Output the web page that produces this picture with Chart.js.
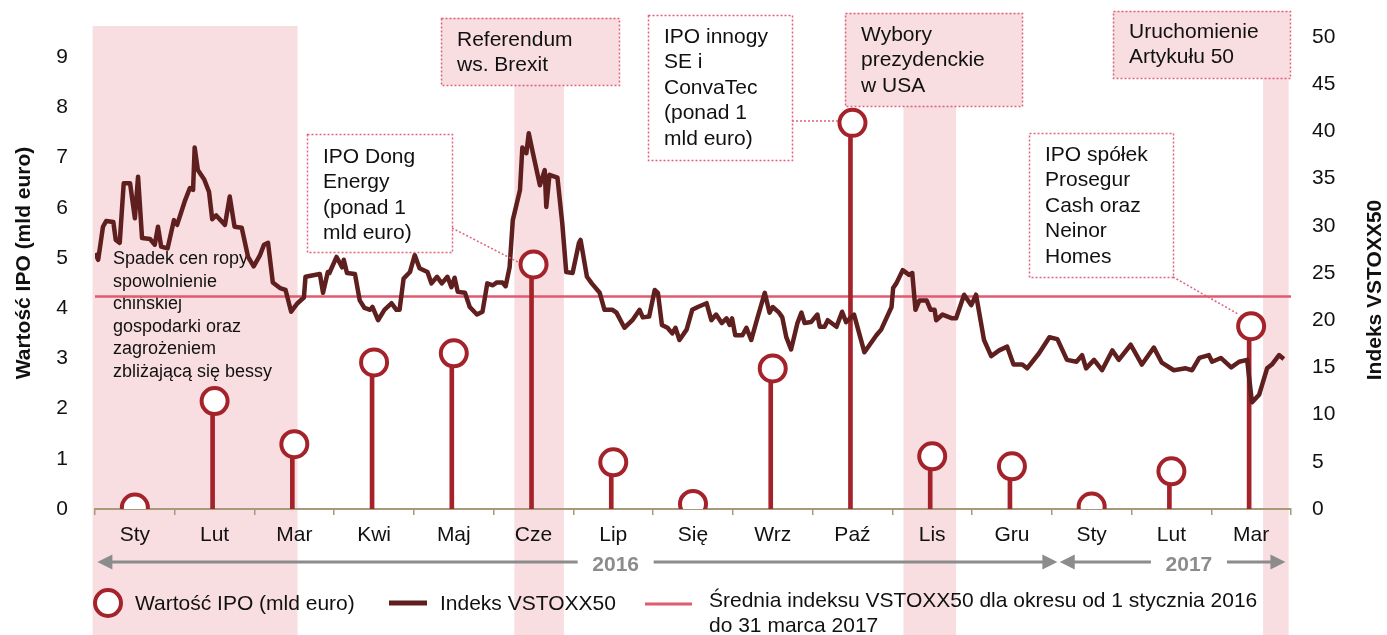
<!DOCTYPE html>
<html>
<head>
<meta charset="utf-8">
<script src="https://cdn.jsdelivr.net/npm/chart.js@4.4.0/dist/chart.umd.min.js"></script>
<style>
  body { margin: 0; background: #fff; }
  #wrap { width: 1387px; height: 635px; }
</style>
</head>
<body>
<div id="wrap"><canvas id="ipoChart" width="1387" height="635"></canvas></div>
<script>
// Months on the x axis (Jan 2016 - Mar 2017)
const months = ['Sty', 'Lut', 'Mar', 'Kwi', 'Maj', 'Cze', 'Lip', 'Się', 'Wrz', 'Paź', 'Lis', 'Gru', 'Sty', 'Lut', 'Mar'];

// IPO value per month (bn euro, left axis)
const ipoValues = [0.03, 2.15, 1.29, 2.92, 3.10, 4.87, 0.93, 0.10, 2.80, 7.69, 1.05, 0.85, 0.05, 0.75, 3.64];

// VSTOXX50 index, position in months from 1 Jan 2016 and value (right axis)
const vstoxxT = [0.00, 0.04, 0.10, 0.14, 0.23, 0.26, 0.31, 0.36, 0.44, 0.50, 0.54, 0.59, 0.69, 0.75, 0.79, 0.83, 0.91, 0.99,
  1.03, 1.13, 1.19, 1.23, 1.25, 1.29, 1.37, 1.43, 1.47, 1.52, 1.63, 1.69, 1.75, 1.84, 1.92, 1.99,
  2.07, 2.12, 2.17, 2.23, 2.32, 2.39, 2.46, 2.54, 2.62, 2.64, 2.82, 2.86, 2.92, 2.94,
  3.03, 3.10, 3.12, 3.16, 3.26, 3.32, 3.38, 3.45, 3.48, 3.55, 3.63, 3.72, 3.78, 3.82, 3.87, 3.95,
  4.01, 4.07, 4.17, 4.22, 4.29, 4.35, 4.42, 4.47, 4.51, 4.55, 4.64, 4.70, 4.79, 4.86, 4.92, 4.99,
  5.04, 5.11, 5.15, 5.20, 5.24, 5.33, 5.36, 5.41, 5.44, 5.49, 5.58, 5.64, 5.66, 5.70, 5.80, 5.86, 5.91, 5.99,
  6.07, 6.09, 6.17, 6.23, 6.33, 6.39, 6.49, 6.54, 6.64, 6.74, 6.83, 6.87, 6.95,
  7.02, 7.06, 7.11, 7.18, 7.24, 7.28, 7.33, 7.42, 7.49, 7.56, 7.67, 7.73, 7.79, 7.86, 7.92, 7.96, 7.99,
  8.03, 8.12, 8.17, 8.23, 8.31, 8.40, 8.46, 8.50, 8.58, 8.62, 8.67, 8.73, 8.81, 8.86, 8.90, 8.98,
  9.06, 9.09, 9.15, 9.19, 9.30, 9.37, 9.42, 9.52, 9.65, 9.80, 9.86, 9.99,
  10.01, 10.05, 10.13, 10.21, 10.25, 10.29, 10.34, 10.43, 10.48, 10.53, 10.55, 10.63, 10.75, 10.80, 10.90, 10.99,
  11.05, 11.15, 11.24, 11.34, 11.44, 11.52, 11.63, 11.69, 11.84, 11.97,
  12.07, 12.19, 12.31, 12.38, 12.43, 12.53, 12.63, 12.76, 12.84, 12.99,
  13.13, 13.28, 13.38, 13.53, 13.68, 13.76, 13.85, 13.97,
  14.01, 14.12, 14.25, 14.35, 14.45, 14.51, 14.60, 14.70, 14.76, 14.85, 14.91];
const vstoxxV = [27.1, 26.4, 29.9, 30.5, 30.4, 28.5, 28.2, 34.5, 34.5, 30.8, 35.2, 28.7, 28.6, 28.0, 29.9, 27.8, 27.6, 30.6,
  30.1, 32.7, 34.0, 33.8, 38.3, 35.9, 34.9, 33.6, 30.7, 31.1, 30.1, 33.1, 29.9, 29.8, 26.7, 25.7,
  26.9, 28.0, 28.2, 24.0, 23.4, 23.2, 20.9, 21.8, 22.4, 24.6, 24.9, 22.9, 25.1, 25.0,
  26.7, 25.6, 26.4, 25.0, 24.9, 22.1, 21.3, 21.1, 21.4, 20.0, 21.1, 21.8, 21.1, 21.1, 24.4, 25.1,
  26.9, 25.5, 25.1, 23.9, 24.6, 23.9, 24.6, 23.5, 24.5, 23.0, 22.9, 21.4, 20.6, 20.9, 23.9, 23.7,
  24.0, 24.0, 23.6, 25.6, 30.6, 33.8, 38.3, 37.7, 39.8, 37.8, 34.3, 35.9, 32.0, 35.4, 35.1, 30.3, 25.1, 25.0,
  28.2, 28.5, 24.6, 23.9, 22.9, 21.1, 21.1, 20.8, 19.2, 20.0, 21.1, 20.3, 20.4,
  23.2, 22.9, 19.5, 19.2, 18.6, 19.2, 17.9, 19.0, 21.1, 21.4, 21.8, 20.0, 20.6, 19.7, 20.2, 19.5, 20.2,
  18.4, 18.4, 19.2, 17.9, 20.3, 22.9, 20.8, 21.4, 20.8, 20.3, 18.2, 16.9, 19.7, 20.8, 19.7, 19.8,
  20.6, 19.3, 19.3, 20.0, 19.3, 20.9, 19.8, 20.6, 16.6, 18.4, 19.0, 21.4,
  23.4, 23.9, 25.3, 24.8, 25.0, 21.1, 22.1, 22.1, 21.1, 21.1, 20.0, 20.6, 20.2, 20.2, 22.7, 21.6,
  22.7, 17.9, 16.2, 16.8, 17.2, 15.3, 15.3, 14.9, 16.5, 18.2,
  18.0, 15.8, 15.6, 16.3, 14.9, 15.8, 14.7, 16.8, 15.8, 17.4,
  15.3, 17.1, 15.5, 14.7, 14.9, 14.7, 16.0, 16.3,
  15.6, 16.0, 15.0, 15.6, 15.8, 11.3, 12.1, 14.9, 15.3, 16.3, 15.9];

// Average of the index over the whole period
const vstoxxMean = 22.5;

// Tick labels
const leftTicks = [0, 1, 2, 3, 4, 5, 6, 7, 8, 9];
const rightTicks = [0, 5, 10, 15, 20, 25, 30, 35, 40, 45, 50];

// Shaded periods (in months from 1 Jan 2016)
const bandStarts = [-0.03, 5.26, 10.14, 14.65];
const bandEnds = [2.54, 5.88, 10.80, 14.97];

const FONT = '"Liberation Sans", Arial, sans-serif';
const RED = '#a4222a';
const DARK = '#5e1f1e';
const PINK = '#e05a70';
const BAND = '#f8dde1';
const DOTS = '#e0627a';
const GREY = '#8c8c8c';

// Annotation boxes
const boxes = [
  { x: 307, y: 134, w: 145, h: 118, fill: '#fff', ty: 157, lines: ['IPO Dong', 'Energy', '(ponad 1', 'mld euro)'] },
  { x: 441, y: 18, w: 178, h: 67, fill: BAND, ty: 40, lines: ['Referendum', 'ws. Brexit'] },
  { x: 648, y: 15, w: 144, h: 145, fill: '#fff', ty: 37, lines: ['IPO innogy', 'SE i', 'ConvaTec', '(ponad 1', 'mld euro)'] },
  { x: 845, y: 13, w: 177, h: 93, fill: BAND, ty: 35, lines: ['Wybory', 'prezydenckie', 'w USA'] },
  { x: 1029, y: 133, w: 144, h: 144, fill: '#fff', ty: 155, lines: ['IPO spółek', 'Prosegur', 'Cash oraz', 'Neinor', 'Homes'] },
  { x: 1113, y: 11, w: 177, h: 67, fill: BAND, ty: 32, lines: ['Uruchomienie', 'Artykułu 50'] }
];

// Function to draw a filled arrow head, dir = 1 points right
function arrowHead(ctx, x, y, dir) {
  ctx.beginPath();
  ctx.moveTo(x, y);
  ctx.lineTo(x - dir * 15, y - 7.5);
  ctx.lineTo(x - dir * 15, y + 7.5);
  ctx.closePath();
  ctx.fill();
}

// Plugin for bands, boxes, year arrows, legend and axis titles
const overlay = {
  id: 'overlay',
  beforeDraw(chart) {
    const ctx = chart.ctx;
    const x2 = chart.scales.x2;
    ctx.save();
    ctx.fillStyle = BAND;
    bandStarts.forEach((s, i) => {
      const a = x2.getPixelForValue(s);
      const b = x2.getPixelForValue(bandEnds[i]);
      ctx.fillRect(a, 26, b - a, chart.height - 26);
    });
    ctx.restore();
  },
  beforeDatasetsDraw(chart) {
    const ctx = chart.ctx;
    ctx.save();
    ctx.fillStyle = '#111';
    ctx.font = '18px ' + FONT;
    ctx.textBaseline = 'middle';
    ['Spadek cen ropy', 'spowolnienie', 'chińskiej', 'gospodarki oraz', 'zagrożeniem', 'zbliżającą się bessy']
      .forEach((t, i) => ctx.fillText(t, 113, 259 + i * 22.6));
    ctx.restore();
  },
  afterDatasetsDraw(chart) {
    const ctx = chart.ctx;
    const x2 = chart.scales.x2;
    ctx.save();

    // connectors
    ctx.strokeStyle = DOTS;
    ctx.lineWidth = 1.5;
    ctx.setLineDash([2, 2]);
    [[452, 228, 518, 262], [792, 121, 838, 121], [1173, 277, 1238, 314]].forEach(c => {
      ctx.beginPath();
      ctx.moveTo(c[0], c[1]);
      ctx.lineTo(c[2], c[3]);
      ctx.stroke();
    });

    // boxes
    boxes.forEach(b => {
      ctx.fillStyle = b.fill;
      ctx.fillRect(b.x, b.y, b.w, b.h);
      ctx.setLineDash([2, 2]);
      ctx.strokeStyle = DOTS;
      ctx.strokeRect(b.x + 0.5, b.y + 0.5, b.w, b.h);
      ctx.setLineDash([]);
      ctx.fillStyle = '#111';
      ctx.font = '21px ' + FONT;
      ctx.textBaseline = 'middle';
      b.lines.forEach((t, i) => ctx.fillText(t, b.x + 16, b.ty + i * 25.5));
    });
    ctx.setLineDash([]);

    // year arrows
    const yA = 562;
    ctx.strokeStyle = GREY;
    ctx.fillStyle = GREY;
    ctx.lineWidth = 3;
    [['2016', 0.03, 12.07, 6.53], ['2017', 12.10, 14.93, 13.72]].forEach(r => {
      const a = x2.getPixelForValue(r[1]);
      const b = x2.getPixelForValue(r[2]);
      const m = x2.getPixelForValue(r[3]);
      ctx.beginPath();
      ctx.moveTo(a + 10, yA);
      ctx.lineTo(m - 38, yA);
      ctx.moveTo(m + 38, yA);
      ctx.lineTo(b - 10, yA);
      ctx.stroke();
      arrowHead(ctx, a, yA, -1);
      arrowHead(ctx, b, yA, 1);
      ctx.font = 'bold 21px ' + FONT;
      ctx.textAlign = 'center';
      ctx.textBaseline = 'middle';
      ctx.fillText(r[0], m, yA + 3);
    });
    ctx.textAlign = 'left';

    // legend
    ctx.beginPath();
    ctx.arc(108, 603, 13, 0, Math.PI * 2);
    ctx.fillStyle = '#fff';
    ctx.fill();
    ctx.lineWidth = 4;
    ctx.strokeStyle = RED;
    ctx.stroke();
    ctx.lineWidth = 5;
    ctx.strokeStyle = DARK;
    ctx.beginPath();
    ctx.moveTo(389, 603);
    ctx.lineTo(427, 603);
    ctx.stroke();
    ctx.lineWidth = 3;
    ctx.strokeStyle = PINK;
    ctx.beginPath();
    ctx.moveTo(645, 604);
    ctx.lineTo(692, 604);
    ctx.stroke();
    ctx.fillStyle = '#111';
    ctx.font = '21px ' + FONT;
    ctx.textBaseline = 'middle';
    ctx.fillText('Wartość IPO (mld euro)', 135, 604);
    ctx.fillText('Indeks VSTOXX50', 440, 604);
    ctx.fillText('Średnia indeksu VSTOXX50 dla okresu od 1 stycznia 2016', 709, 601);
    ctx.fillText('do 31 marca 2017', 709, 626);

    // axis titles
    ctx.font = 'bold 21px ' + FONT;
    ctx.textAlign = 'center';
    ctx.save();
    ctx.translate(24, 263);
    ctx.rotate(-Math.PI / 2);
    ctx.fillText('Wartość IPO (mld euro)', 0, 0);
    ctx.restore();
    ctx.save();
    ctx.translate(1375, 290);
    ctx.rotate(-Math.PI / 2);
    ctx.fillText('Indeks VSTOXX50', 0, 0);
    ctx.restore();

    ctx.restore();
  }
};

Chart.defaults.font.family = FONT;
Chart.defaults.font.size = 21;
Chart.defaults.color = '#111';

const ctx = document.getElementById('ipoChart').getContext('2d');
const chart = new Chart(ctx, {
  type: 'bar',
  data: {
    labels: months,
    datasets: [
      {
        type: 'line',
        label: 'Wartość IPO (mld euro)',
        data: ipoValues,
        xAxisID: 'x',
        yAxisID: 'y',
        showLine: false,
        pointRadius: 13,
        pointBorderWidth: 4,
        pointBackgroundColor: '#fff',
        pointBorderColor: RED,
        order: 0
      },
      {
        type: 'line',
        label: 'Indeks VSTOXX50',
        data: vstoxxT.map((t, i) => ({ x: t, y: vstoxxV[i] })),
        xAxisID: 'x2',
        yAxisID: 'y2',
        borderColor: DARK,
        borderWidth: 4.5,
        borderJoinStyle: 'round',
        pointRadius: 0,
        tension: 0,
        order: 1
      },
      {
        type: 'bar',
        label: 'stems',
        data: ipoValues,
        xAxisID: 'x',
        yAxisID: 'y',
        backgroundColor: RED,
        barThickness: 4,
        order: 2
      },
      {
        type: 'line',
        label: 'Średnia',
        data: [{ x: 0, y: vstoxxMean }, { x: 15, y: vstoxxMean }],
        xAxisID: 'x2',
        yAxisID: 'y2',
        borderColor: PINK,
        borderWidth: 2.5,
        pointRadius: 0,
        order: 3
      }
    ]
  },
  options: {
    responsive: false,
    devicePixelRatio: 1,
    animation: false,
    layout: { padding: { top: 37, left: 0, right: 0, bottom: 0 } },
    plugins: { legend: { display: false }, tooltip: { enabled: false } },
    scales: {
      x: {
        type: 'category',
        offset: true,
        afterFit: s => { s.height = 126; },
        grid: { offset: true, drawOnChartArea: false, tickLength: 6, color: '#a89a78', lineWidth: 1.5 },
        border: { color: '#a89a78', width: 2 },
        ticks: { padding: 8, maxRotation: 0, font: { size: 21 } }
      },
      x2: {
        type: 'linear',
        min: 0,
        max: 15,
        offset: false,
        grid: { offset: false },
        display: false
      },
      y: {
        position: 'left',
        min: 0,
        max: 9.4,
        afterFit: s => { s.width = 95; },
        afterBuildTicks: s => { s.ticks = leftTicks.map(v => ({ value: v })); },
        grid: { display: false },
        border: { display: false },
        ticks: { padding: 19, font: { size: 21 } }
      },
      y2: {
        position: 'right',
        min: 0,
        max: 50,
        afterFit: s => { s.width = 96; },
        afterBuildTicks: s => { s.ticks = rightTicks.map(v => ({ value: v })); },
        grid: { display: false },
        border: { display: false },
        ticks: { padding: 13, font: { size: 21 } }
      }
    }
  },
  plugins: [overlay]
});
</script>
</body>
</html>
